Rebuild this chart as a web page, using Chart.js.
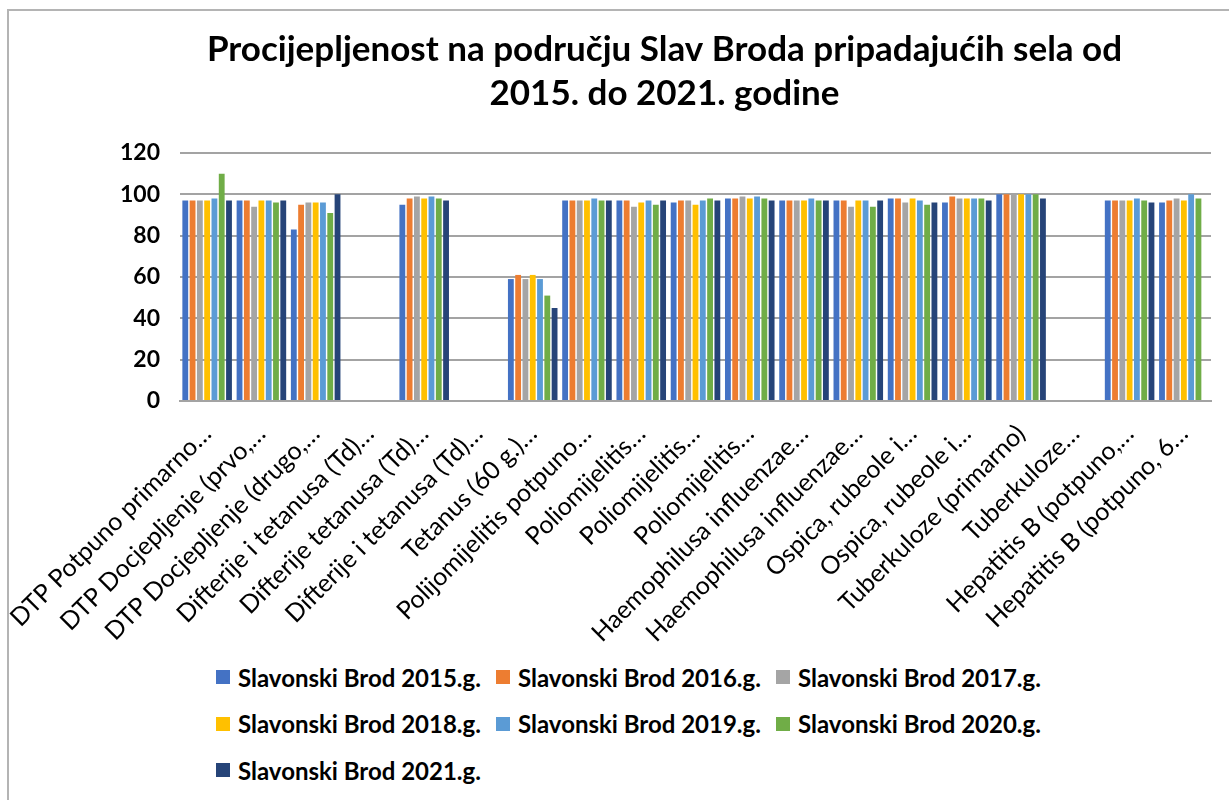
<!DOCTYPE html>
<html>
<head>
<meta charset="utf-8">
<script src="https://cdn.jsdelivr.net/npm/chart.js@4/dist/chart.umd.min.js"></script>
<style>
  body { margin: 0; background: #fff; font-family: Lato, sans-serif; }
  #frame { position: absolute; left: 7px; top: 9px; width: 1240px; height: 820px;
           border-left: 2px solid #b4b4b4; border-top: 2px solid #b4b4b4; }
  #wrap { position: absolute; left: 0; top: 0; width: 1229px; height: 650px; }
  #legend { position: absolute; left: 216px; top: 654px; display: grid;
            grid-template-columns: 280px 280px 280px; row-gap: 0; }
  .item { height: 46.5px; display: flex; align-items: center; font-weight: bold;
          font-size: 24px; color: #000; white-space: nowrap; }
  .box { width: 14px; height: 14px; margin-right: 8px; flex: none; }
</style>
</head>
<body>
<div id="frame"></div>
<div id="wrap"><canvas id="myChart"></canvas></div>
<div id="legend"></div>
<script>
var labels = ['DTP Potpuno primarno…', 'DTP Docjepljenje (prvo,…', 'DTP Docjepljenje (drugo,…',
    'Difterije i tetanusa (Td)…', 'Difterije tetanusa (Td)…', 'Difterije i tetanusa (Td)…',
    'Tetanus (60 g.)…', 'Polijomijelitis potpuno…', 'Poliomijelitis…', 'Poliomijelitis…',
    'Poliomijelitis…', 'Haemophilusa influenzae…', 'Haemophilusa influenzae…',
    'Ospica, rubeole i…', 'Ospica, rubeole i…', 'Tuberkuloze (primarno)', 'Tuberkuloze…',
    'Hepatitis B (potpuno,…', 'Hepatitis B (potpuno, 6…'];

var sb2015 = [97, 97, 83, null, 95, null, 59, 97, 97, 96, 98, 97, 97, 98, 96, 100, null, 97, 96];
var sb2016 = [97, 97, 95, null, 98, null, 61, 97, 97, 97, 98, 97, 97, 98, 99, 100, null, 97, 97];
var sb2017 = [97, 94, 96, null, 99, null, 59, 97, 94, 97, 99, 97, 94, 96, 98, 100, null, 97, 98];
var sb2018 = [97, 97, 96, null, 98, null, 61, 97, 96, 95, 98, 97, 97, 98, 98, 100, null, 97, 97];
var sb2019 = [98, 97, 96, null, 99, null, 59, 98, 97, 97, 99, 98, 97, 97, 98, 100, null, 98, 100];
var sb2020 = [110, 96, 91, null, 98, null, 51, 97, 95, 98, 98, 97, 94, 95, 98, 100, null, 97, 98];
var sb2021 = [97, 97, 100, null, 97, null, 45, 97, 97, 97, 97, 97, 97, 96, 97, 98, null, 96, null];

var yTicks = [0, 20, 40, 60, 80, 100, 120];

var series = [
    ['Slavonski Brod 2015.g.', sb2015, '#4472C4'],
    ['Slavonski Brod 2016.g.', sb2016, '#ED7D31'],
    ['Slavonski Brod 2017.g.', sb2017, '#A5A5A5'],
    ['Slavonski Brod 2018.g.', sb2018, '#FFC000'],
    ['Slavonski Brod 2019.g.', sb2019, '#5B9BD5'],
    ['Slavonski Brod 2020.g.', sb2020, '#70AD47'],
    ['Slavonski Brod 2021.g.', sb2021, '#264478']
];

var ctx = document.getElementById('myChart').getContext('2d');
var myChart = new Chart(ctx, {
    type: 'bar',
    data: {
        labels: labels,
        datasets: series.map(function (s) {
            return {
                label: s[0],
                data: s[1],
                backgroundColor: s[2],
                borderWidth: 0,
                categoryPercentage: 0.94,
                barPercentage: 0.8
            };
        })
    },
    options: {
        responsive: true,
        maintainAspectRatio: false,
        animation: false,
        layout: { padding: { left: 118, right: 18, top: 0, bottom: 0 } },
        plugins: {
            legend: { display: false },
            tooltip: { enabled: false },
            title: {
                display: true,
                text: ['Procijepljenost na području Slav Broda pripadajućih sela od', '2015. do 2021. godine'],
                color: '#000',
                font: { family: 'Lato', size: 35, weight: 'bold', lineHeight: 1.257 },
                padding: { top: 28, bottom: 37 }
            }
        },
        scales: {
            x: {
                grid: { display: false },
                border: { display: true, color: '#a3a3a3', width: 2 },
                ticks: {
                    autoSkip: false,
                    maxRotation: 45,
                    minRotation: 45,
                    padding: 10,
                    color: '#000',
                    font: { family: 'Lato', size: 25 }
                },
                afterFit: function (s) { s.height = 249; }
            },
            y: {
                min: 0,
                max: 120,
                afterBuildTicks: function (s) {
                    s.ticks = yTicks.map(function (v) { return { value: v }; });
                },
                grid: { color: '#a3a3a3', lineWidth: 2, drawTicks: false },
                border: { display: false },
                ticks: {
                    padding: 20,
                    color: '#000',
                    font: { family: 'Lato', size: 23, weight: 'bold' }
                },
                afterFit: function (s) { s.width = 60; }
            }
        }
    }
});

var legend = document.getElementById('legend');
series.forEach(function (s) {
    var item = document.createElement('div');
    item.className = 'item';
    var box = document.createElement('span');
    box.className = 'box';
    box.style.background = s[2];
    item.appendChild(box);
    item.appendChild(document.createTextNode(s[0]));
    legend.appendChild(item);
});
</script>
</body>
</html>
